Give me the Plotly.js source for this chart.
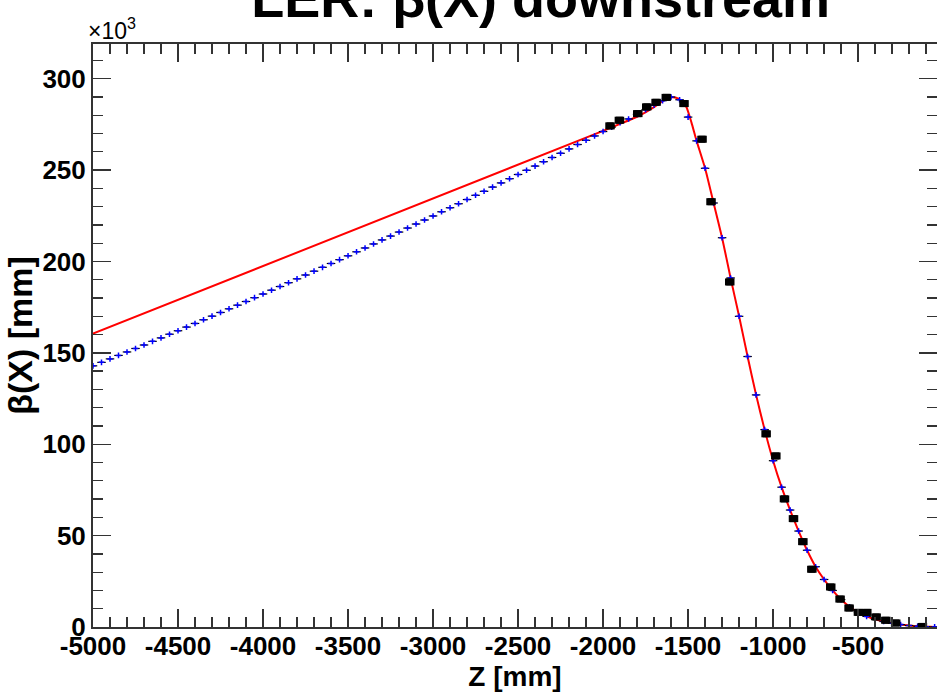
<!DOCTYPE html>
<html>
<head>
<meta charset="utf-8">
<script src="https://cdn.plot.ly/plotly-3.0.1.min.js"></script>
<style>html,body{margin:0;padding:0;background:#fff;}#plot{width:937px;height:693px;}</style>
</head>
<body>
<div id="plot"></div>
<script>
// Fit curve (red), units: Z [mm], beta [10^3 mm]
const redZ = [-5000, -2000, -1900, -1800, -1700, -1650, -1600, -1570, -1540, -1510, -1480, -1450, -1400, -1350, -1300, -1250, -1200, -1150, -1100, -1050, -1000, -950, -900, -850, -800, -750, -700, -650, -600, -550, -500, -450, -400, -350, -300, -250, -200, -150, -100, -50, 0];
const redV = [160.5, 271.5, 275.3, 279.2, 284.5, 287.8, 289.8, 289.6, 288.0, 284.5, 276, 266, 251, 232, 213, 191, 170, 148, 127, 108, 91, 76.5, 64, 52.5, 42, 33, 26, 20, 15, 11, 8, 5.8, 4.2, 3, 2, 1.3, 0.8, 0.4, 0.2, 0.05, 0];

// Model points (blue)
const blueZ = [-5000,-4950,-4900,-4850,-4800,-4750,-4700,-4650,-4600,-4550,-4500,-4450,-4400,-4350,-4300,-4250,-4200,-4150,-4100,-4050,-4000,-3950,-3900,-3850,-3800,-3750,-3700,-3650,-3600,-3550,-3500,-3450,-3400,-3350,-3300,-3250,-3200,-3150,-3100,-3050,-3000,-2950,-2900,-2850,-2800,-2750,-2700,-2650,-2600,-2550,-2500,-2450,-2400,-2350,-2300,-2250,-2200,-2150,-2100,-2050,-2000,-1950,-1900,-1850,-1800,-1750,-1700,-1650,-1600,-1550,-1500,-1450,-1400,-1350,-1300,-1250,-1200,-1150,-1100,-1050,-1000,-950,-900,-850,-800,-750,-700,-650,-600,-550,-500,-450,-400,-350,-300,-250,-200,-150,-100,-50];
const blueV = [142.9,144.8,146.7,148.6,150.5,152.4,154.3,156.3,158.2,160.2,162.1,164.1,166.1,168.1,170.1,172.1,174.1,176.1,178.1,180.2,182.2,184.3,186.3,188.4,190.5,192.6,194.7,196.8,198.9,201.0,203.1,205.3,207.4,209.6,211.8,213.9,216.1,218.3,220.5,222.7,224.9,227.2,229.4,231.6,233.9,236.2,238.4,240.7,243.0,245.3,247.6,249.9,252.2,254.6,256.9,259.2,261.6,264.0,266.3,268.7,271.1,273.5,276,278,280.5,283,285.5,288,290,288.5,279,266,251,232,213,191,170,148,127,108,91,76.5,64,52.5,42,33,26,20,15,11,8,5.8,4.2,3,2,1.3,0.8,0.4,0.2,0.05];
const blueHalfWidth = 25;

// Measured points (black)
const measZ = [-1959, -1904, -1796, -1743, -1688, -1628, -1524, -1418, -1365, -1255, -1041, -984, -933, -880, -825, -772, -661, -606, -553, -498, -449, -394, -337, -279, -122];
const measV = [274.2, 277.3, 280.9, 284.6, 287.1, 289.8, 286.4, 266.9, 232.7, 188.8, 105.7, 93.6, 70.1, 59.3, 46.7, 31.6, 21.9, 15.3, 10.4, 8.0, 8.0, 5.5, 3.7, 2.2, 0.3];
const measHalfWidth = 28;

const xTickVals = [-5000,-4500,-4000,-3500,-3000,-2500,-2000,-1500,-1000,-500];
const xTickText = ["-5000","-4500","-4000","-3500","-3000","-2500","-2000","-1500","-1000","-500"];
const yTickVals = [0,50,100,150,200,250,300];
const yTickText = ["0","50","100","150","200","250","300"];

const sans = "Liberation Sans, Arial, sans-serif";
const tickFont = {family: sans, size: 26, color: "#000", weight: "bold"};

const traces = [
  {x: redZ, y: redV, mode: "lines", line: {color: "#ff0000", width: 2, shape: "spline", smoothing: 0.5}, hoverinfo: "skip"},
  {x: blueZ, y: blueV, mode: "markers", marker: {symbol: "cross-thin", size: 4, color: "#0000ff", line: {color: "#0000ff", width: 1.5}},
   error_x: {type: "constant", value: blueHalfWidth, color: "#000", thickness: 1.2, width: 0}},
  {x: measZ, y: measV, mode: "markers", marker: {symbol: "square", size: 7, color: "#000"},
   error_x: {type: "constant", value: measHalfWidth, color: "#000", thickness: 7, width: 0}}
];

const axisCommon = {
  showline: true, linecolor: "#333", linewidth: 2, mirror: "ticks",
  ticks: "inside", tickcolor: "#333", tickwidth: 1.3, showgrid: false, zeroline: false,
  tickfont: tickFont, automargin: false
};

const layout = {
  width: 937, height: 693,
  margin: {l: 93, r: 0, t: 44, b: 66},
  paper_bgcolor: "#fff", plot_bgcolor: "#fff",
  showlegend: false,
  title: {text: "<b>LER: β(X) downstream</b>", font: {family: sans, size: 54, color: "#000"},
          x: 0.577, xanchor: "center", y: 0.976, yanchor: "bottom", yref: "container"},
  xaxis: Object.assign({}, axisCommon, {
    range: [-5000, -36], tickmode: "array", tickvals: xTickVals, ticktext: xTickText, ticklen: 18,
    ticklabelstandoff: -5,
    minor: {dtick: 100, tick0: -5000, ticks: "inside", ticklen: 10, tickcolor: "#333", tickwidth: 1.3},
    title: {text: "<b>Z [mm]</b>", font: {family: sans, size: 28, color: "#000"}, standoff: 0}
  }),
  yaxis: Object.assign({}, axisCommon, {
    range: [0, 319], tickmode: "array", tickvals: yTickVals, ticktext: yTickText, ticklen: 18,
    minor: {dtick: 10, tick0: 0, ticks: "inside", ticklen: 10, tickcolor: "#333", tickwidth: 1.3},
    title: {text: "<b>β(X) [mm]</b>", font: {family: sans, size: 34, color: "#000"}, standoff: 0}
  }),
  annotations: [
    {text: "×10<sup>3</sup>", xref: "paper", yref: "paper", x: 0, y: 1, xanchor: "left", yanchor: "bottom", xshift: -7, yshift: -2,
     showarrow: false, font: {family: sans, size: 23, color: "#000"}}
  ]
};

Plotly.newPlot("plot", traces, layout, {displayModeBar: false, staticPlot: true});
</script>
</body>
</html>
